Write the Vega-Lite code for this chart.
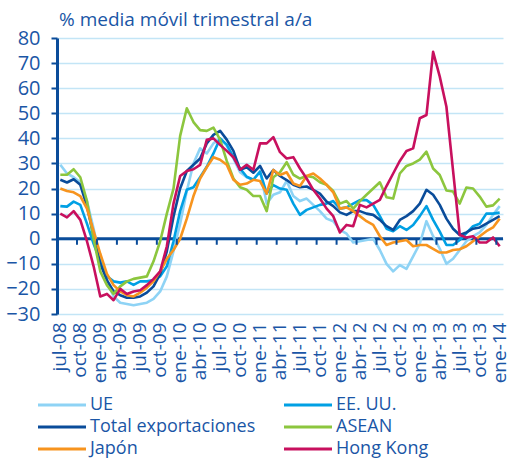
{
  "$schema": "https://vega.github.io/schema/vega-lite/v6.json",
  "width": 446,
  "height": 276,
  "autosize": {"type": "none"},
  "padding": {"left": 57, "top": 38, "right": 4, "bottom": 145},
  "background": "white",
  "config": {"view": {"stroke": null}, "font": "Open Sans"},
  "title": {"text": "% media móvil trimestral a/a", "anchor": "start", "frame": "group", "fontSize": 19, "fontWeight": "normal", "color": "#1a56a6", "offset": 7, "dx": 2, "dy": 9},
  "resolve": {"axis": {"y": "independent"}},
  "layer": [
    {
      "data": {"values": [{}]},
      "mark": {"type": "rule", "color": "#0a4c9a", "strokeWidth": 3},
      "encoding": {"y": {"datum": 0, "type": "quantitative", "axis": null}}
    },
    {
      "data": {"values": [
        {"mes": "jul-08", "UE": 29.5, "EEUU": 13, "Total": 23.5, "ASEAN": 25.5, "Japon": 20, "HK": 10},
        {"mes": "ago-08", "UE": 26, "EEUU": 12.8, "Total": 22.4, "ASEAN": 25.5, "Japon": 19, "HK": 8.5},
        {"mes": "sep-08", "UE": 24.5, "EEUU": 14.8, "Total": 23.7, "ASEAN": 27.7, "Japon": 18.5, "HK": 11},
        {"mes": "oct-08", "UE": 22.5, "EEUU": 13.5, "Total": 21.5, "ASEAN": 24.5, "Japon": 17, "HK": 7.5},
        {"mes": "nov-08", "UE": 15, "EEUU": 6, "Total": 13, "ASEAN": 15, "Japon": 12, "HK": -1},
        {"mes": "dic-08", "UE": 4, "EEUU": -2, "Total": 1, "ASEAN": 0, "Japon": 3, "HK": -11},
        {"mes": "ene-09", "UE": -8, "EEUU": -9, "Total": -10, "ASEAN": -13, "Japon": -6, "HK": -23},
        {"mes": "feb-09", "UE": -17, "EEUU": -15, "Total": -16.5, "ASEAN": -18.5, "Japon": -14, "HK": -22},
        {"mes": "mar-09", "UE": -23, "EEUU": -17, "Total": -21, "ASEAN": -22, "Japon": -18.5, "HK": -24.5},
        {"mes": "abr-09", "UE": -25.5, "EEUU": -17.5, "Total": -22.5, "ASEAN": -19, "Japon": -21, "HK": -20},
        {"mes": "may-09", "UE": -26, "EEUU": -17, "Total": -23.5, "ASEAN": -17, "Japon": -22.5, "HK": -22},
        {"mes": "jun-09", "UE": -26.5, "EEUU": -18.4, "Total": -23.5, "ASEAN": -16, "Japon": -23, "HK": -21},
        {"mes": "jul-09", "UE": -26, "EEUU": -17, "Total": -23, "ASEAN": -15.5, "Japon": -21.5, "HK": -20.5},
        {"mes": "ago-09", "UE": -25.5, "EEUU": -17, "Total": -21.5, "ASEAN": -15, "Japon": -19.5, "HK": -18.5},
        {"mes": "sep-09", "UE": -24, "EEUU": -16.5, "Total": -19, "ASEAN": -9, "Japon": -17, "HK": -16},
        {"mes": "oct-09", "UE": -21, "EEUU": -15, "Total": -14, "ASEAN": -1, "Japon": -13, "HK": -13},
        {"mes": "nov-09", "UE": -15, "EEUU": -11, "Total": -5, "ASEAN": 10, "Japon": -8, "HK": -3},
        {"mes": "dic-09", "UE": -5, "EEUU": -1, "Total": 8.8, "ASEAN": 20, "Japon": -4.5, "HK": 14},
        {"mes": "ene-10", "UE": 6, "EEUU": 11, "Total": 20, "ASEAN": 41, "Japon": 0, "HK": 25},
        {"mes": "feb-10", "UE": 19, "EEUU": 19.5, "Total": 27, "ASEAN": 52, "Japon": 8, "HK": 27},
        {"mes": "mar-10", "UE": 30, "EEUU": 20.5, "Total": 29.5, "ASEAN": 46.5, "Japon": 17, "HK": 27.7},
        {"mes": "abr-10", "UE": 36, "EEUU": 24.5, "Total": 32, "ASEAN": 43.3, "Japon": 24, "HK": 29.4},
        {"mes": "may-10", "UE": 34, "EEUU": 28.7, "Total": 38, "ASEAN": 43, "Japon": 28.5, "HK": 39.4},
        {"mes": "jun-10", "UE": 38, "EEUU": 34, "Total": 41.4, "ASEAN": 44.3, "Japon": 32.5, "HK": 40},
        {"mes": "jul-10", "UE": 40, "EEUU": 40, "Total": 43, "ASEAN": 39.5, "Japon": 31.5, "HK": 37.4},
        {"mes": "ago-10", "UE": 37, "EEUU": 37.5, "Total": 39.5, "ASEAN": 31, "Japon": 29.5, "HK": 35},
        {"mes": "sep-10", "UE": 32, "EEUU": 32.5, "Total": 35, "ASEAN": 24, "Japon": 23.5, "HK": 32.5},
        {"mes": "oct-10", "UE": 26.5, "EEUU": 28, "Total": 27.5, "ASEAN": 20.5, "Japon": 21.5, "HK": 27.5},
        {"mes": "nov-10", "UE": 24.5, "EEUU": 24.7, "Total": 28.5, "ASEAN": 19.5, "Japon": 22, "HK": 29.5},
        {"mes": "dic-10", "UE": 23.5, "EEUU": 23.5, "Total": 26.3, "ASEAN": 17, "Japon": 23.5, "HK": 27.5},
        {"mes": "ene-11", "UE": 27, "EEUU": 26.7, "Total": 29, "ASEAN": 17, "Japon": 23, "HK": 38},
        {"mes": "feb-11", "UE": 14, "EEUU": 18, "Total": 24, "ASEAN": 11, "Japon": 18, "HK": 38},
        {"mes": "mar-11", "UE": 17.5, "EEUU": 21.4, "Total": 27.4, "ASEAN": 24.5, "Japon": 27.4, "HK": 40.5},
        {"mes": "abr-11", "UE": 18.5, "EEUU": 20, "Total": 25, "ASEAN": 26.5, "Japon": 25.4, "HK": 34.5},
        {"mes": "may-11", "UE": 23, "EEUU": 19.5, "Total": 23.4, "ASEAN": 30.5, "Japon": 26.5, "HK": 32},
        {"mes": "jun-11", "UE": 17, "EEUU": 14, "Total": 21.5, "ASEAN": 25.5, "Japon": 22, "HK": 32.5},
        {"mes": "jul-11", "UE": 15, "EEUU": 9.5, "Total": 20.5, "ASEAN": 24, "Japon": 21, "HK": 28},
        {"mes": "ago-11", "UE": 16, "EEUU": 11.5, "Total": 20.8, "ASEAN": 25, "Japon": 25, "HK": 24},
        {"mes": "sep-11", "UE": 13.5, "EEUU": 12.5, "Total": 19.5, "ASEAN": 24.5, "Japon": 26, "HK": 19.5},
        {"mes": "oct-11", "UE": 11, "EEUU": 13.5, "Total": 18, "ASEAN": 22.5, "Japon": 24, "HK": 16},
        {"mes": "nov-11", "UE": 8, "EEUU": 14, "Total": 14.8, "ASEAN": 21.5, "Japon": 21.5, "HK": 12},
        {"mes": "dic-11", "UE": 7, "EEUU": 15, "Total": 13, "ASEAN": 19, "Japon": 18.5, "HK": 9},
        {"mes": "ene-12", "UE": 3.5, "EEUU": 12, "Total": 10.5, "ASEAN": 14, "Japon": 12, "HK": 2.5},
        {"mes": "feb-12", "UE": 2, "EEUU": 12.5, "Total": 9.5, "ASEAN": 15, "Japon": 12.5, "HK": 5.5},
        {"mes": "mar-12", "UE": -1.5, "EEUU": 14, "Total": 11, "ASEAN": 12, "Japon": 11, "HK": 5},
        {"mes": "abr-12", "UE": -1, "EEUU": 15.4, "Total": 11, "ASEAN": 15, "Japon": 9, "HK": 13.5},
        {"mes": "may-12", "UE": -0.5, "EEUU": 15.4, "Total": 10, "ASEAN": 17.5, "Japon": 7, "HK": 12.5},
        {"mes": "jun-12", "UE": 0, "EEUU": 13.5, "Total": 9.5, "ASEAN": 20, "Japon": 5.5, "HK": 14},
        {"mes": "jul-12", "UE": -4.5, "EEUU": 9, "Total": 7.5, "ASEAN": 22.5, "Japon": 1, "HK": 15.5},
        {"mes": "ago-12", "UE": -10, "EEUU": 4, "Total": 5, "ASEAN": 16.5, "Japon": -2.5, "HK": 21},
        {"mes": "sep-12", "UE": -13, "EEUU": 3, "Total": 3.5, "ASEAN": 16, "Japon": -1.5, "HK": 26},
        {"mes": "oct-12", "UE": -10.5, "EEUU": 5, "Total": 7.5, "ASEAN": 26, "Japon": -1, "HK": 31},
        {"mes": "nov-12", "UE": -12, "EEUU": 3.5, "Total": 9, "ASEAN": 29, "Japon": -0.5, "HK": 35},
        {"mes": "dic-12", "UE": -7, "EEUU": 5.5, "Total": 11, "ASEAN": 30, "Japon": -3, "HK": 36},
        {"mes": "ene-13", "UE": -2, "EEUU": 9, "Total": 14, "ASEAN": 31.5, "Japon": -2.5, "HK": 48},
        {"mes": "feb-13", "UE": 7, "EEUU": 13, "Total": 19.5, "ASEAN": 34.7, "Japon": -2.5, "HK": 49.3},
        {"mes": "mar-13", "UE": 1, "EEUU": 7.5, "Total": 17.5, "ASEAN": 28, "Japon": -4, "HK": 74.5},
        {"mes": "abr-13", "UE": -4, "EEUU": 2.8, "Total": 13.5, "ASEAN": 25.4, "Japon": -5.5, "HK": 64.6},
        {"mes": "may-13", "UE": -10, "EEUU": -2.5, "Total": 8, "ASEAN": 19.2, "Japon": -5.5, "HK": 52.6},
        {"mes": "jun-13", "UE": -8, "EEUU": -2.5, "Total": 4, "ASEAN": 18.8, "Japon": -4.5, "HK": 27},
        {"mes": "jul-13", "UE": -4.5, "EEUU": -0.5, "Total": 1.5, "ASEAN": 14, "Japon": -4.2, "HK": 1.5},
        {"mes": "ago-13", "UE": -1, "EEUU": 2.2, "Total": 2.5, "ASEAN": 20.4, "Japon": -3, "HK": 0.5},
        {"mes": "sep-13", "UE": 1, "EEUU": 5, "Total": 4, "ASEAN": 20, "Japon": -1, "HK": 1},
        {"mes": "oct-13", "UE": 2.5, "EEUU": 6, "Total": 4.5, "ASEAN": 16.8, "Japon": 1, "HK": -1.5},
        {"mes": "nov-13", "UE": 5.5, "EEUU": 10, "Total": 6, "ASEAN": 12.8, "Japon": 3, "HK": -1.5},
        {"mes": "dic-13", "UE": 9.5, "EEUU": 10, "Total": 7.5, "ASEAN": 13.3, "Japon": 4.5, "HK": 0.5},
        {"mes": "ene-14", "UE": 13, "EEUU": 10.4, "Total": 9, "ASEAN": 16, "Japon": 8, "HK": -3}
      ]},
      "transform": [{"fold": ["UE", "EEUU", "Total", "ASEAN", "Japon", "HK"], "as": ["serie", "valor"]}],
      "mark": {"type": "line", "strokeWidth": 2.6, "strokeJoin": "round"},
      "encoding": {
        "x": {
          "field": "mes", "type": "ordinal", "bandPosition": 0.5,
          "scale": {"type": "band", "paddingInner": 0, "paddingOuter": 0, "domain": ["jul-08","ago-08","sep-08","oct-08","nov-08","dic-08","ene-09","feb-09","mar-09","abr-09","may-09","jun-09","jul-09","ago-09","sep-09","oct-09","nov-09","dic-09","ene-10","feb-10","mar-10","abr-10","may-10","jun-10","jul-10","ago-10","sep-10","oct-10","nov-10","dic-10","ene-11","feb-11","mar-11","abr-11","may-11","jun-11","jul-11","ago-11","sep-11","oct-11","nov-11","dic-11","ene-12","feb-12","mar-12","abr-12","may-12","jun-12","jul-12","ago-12","sep-12","oct-12","nov-12","dic-12","ene-13","feb-13","mar-13","abr-13","may-13","jun-13","jul-13","ago-13","sep-13","oct-13","nov-13","dic-13","ene-14"]},
          "axis": {
            "values": ["jul-08","oct-08","ene-09","abr-09","jul-09","oct-09","ene-10","abr-10","jul-10","oct-10","ene-11","abr-11","jul-11","oct-11","ene-12","abr-12","jul-12","oct-12","ene-13","abr-13","jul-13","oct-13","ene-14"],
            "labelAngle": -90, "labelFontSize": 19, "labelColor": "#1a56a6", "labelPadding": 8,
            "labelOverlap": false, "labelBound": false,
            "domain": false, "ticks": false, "grid": false, "title": null
          }
        },
        "y": {
          "field": "valor", "type": "quantitative",
          "scale": {"domain": [-30, 80], "nice": false},
          "axis": {
            "values": [-30, -20, -10, 0, 10, 20, 30, 40, 50, 60, 70, 80],
            "grid": true, "gridColor": "#c3e5f6", "gridWidth": 1.5,
            "domain": true, "domainColor": "#0a4c9a", "domainWidth": 3,
            "ticks": true, "tickColor": "#0a4c9a", "tickSize": 6, "tickWidth": 2,
            "labelFontSize": 20, "labelColor": "#1a56a6", "labelPadding": 11, "title": null,
            "labelOverlap": false, "labelFlush": false, "labelBound": false
          }
        },
        "color": {
          "field": "serie", "type": "nominal",
          "scale": {"domain": ["UE", "Total", "Japon", "EEUU", "ASEAN", "HK"], "range": ["#8ed3f5", "#0a4c9a", "#f7941e", "#00a0e4", "#8cc63e", "#c8105e"]},
          "legend": {
            "orient": "none", "legendX": -4, "legendY": 358, "columns": 2, "title": null,
            "symbolType": "M-4.8,0H4.8", "symbolSize": 100, "symbolStrokeWidth": 3,
            "labelFontSize": 18, "labelColor": "#1a56a6", "labelOffset": 19,
            "columnPadding": 22, "rowPadding": 4, "padding": 0, "labelLimit": 300,
            "labelExpr": "{'UE': 'UE', 'EEUU': 'EE. UU.', 'Total': 'Total exportaciones', 'ASEAN': 'ASEAN', 'Japon': 'Japón', 'HK': 'Hong Kong'}[datum.label]"
          }
        }
      }
    },
    {
      "data": {"values": [
        {"mes": "oct-08"}, {"mes": "ene-09"}, {"mes": "abr-09"}, {"mes": "jul-09"}, {"mes": "oct-09"},
        {"mes": "ene-10"}, {"mes": "abr-10"}, {"mes": "jul-10"}, {"mes": "oct-10"},
        {"mes": "ene-11"}, {"mes": "abr-11"}, {"mes": "jul-11"}, {"mes": "oct-11"},
        {"mes": "ene-12"}, {"mes": "abr-12"}, {"mes": "jul-12"}, {"mes": "oct-12"},
        {"mes": "ene-13"}, {"mes": "abr-13"}, {"mes": "jul-13"}, {"mes": "oct-13"}, {"mes": "ene-14"}
      ]},
      "mark": {"type": "rule", "color": "#0a4c9a", "strokeWidth": 2},
      "encoding": {
        "x": {"field": "mes", "type": "ordinal", "bandPosition": 0},
        "y": {"datum": 0, "type": "quantitative", "axis": null},
        "y2": {"datum": -2.4}
      }
    }
  ]
}
